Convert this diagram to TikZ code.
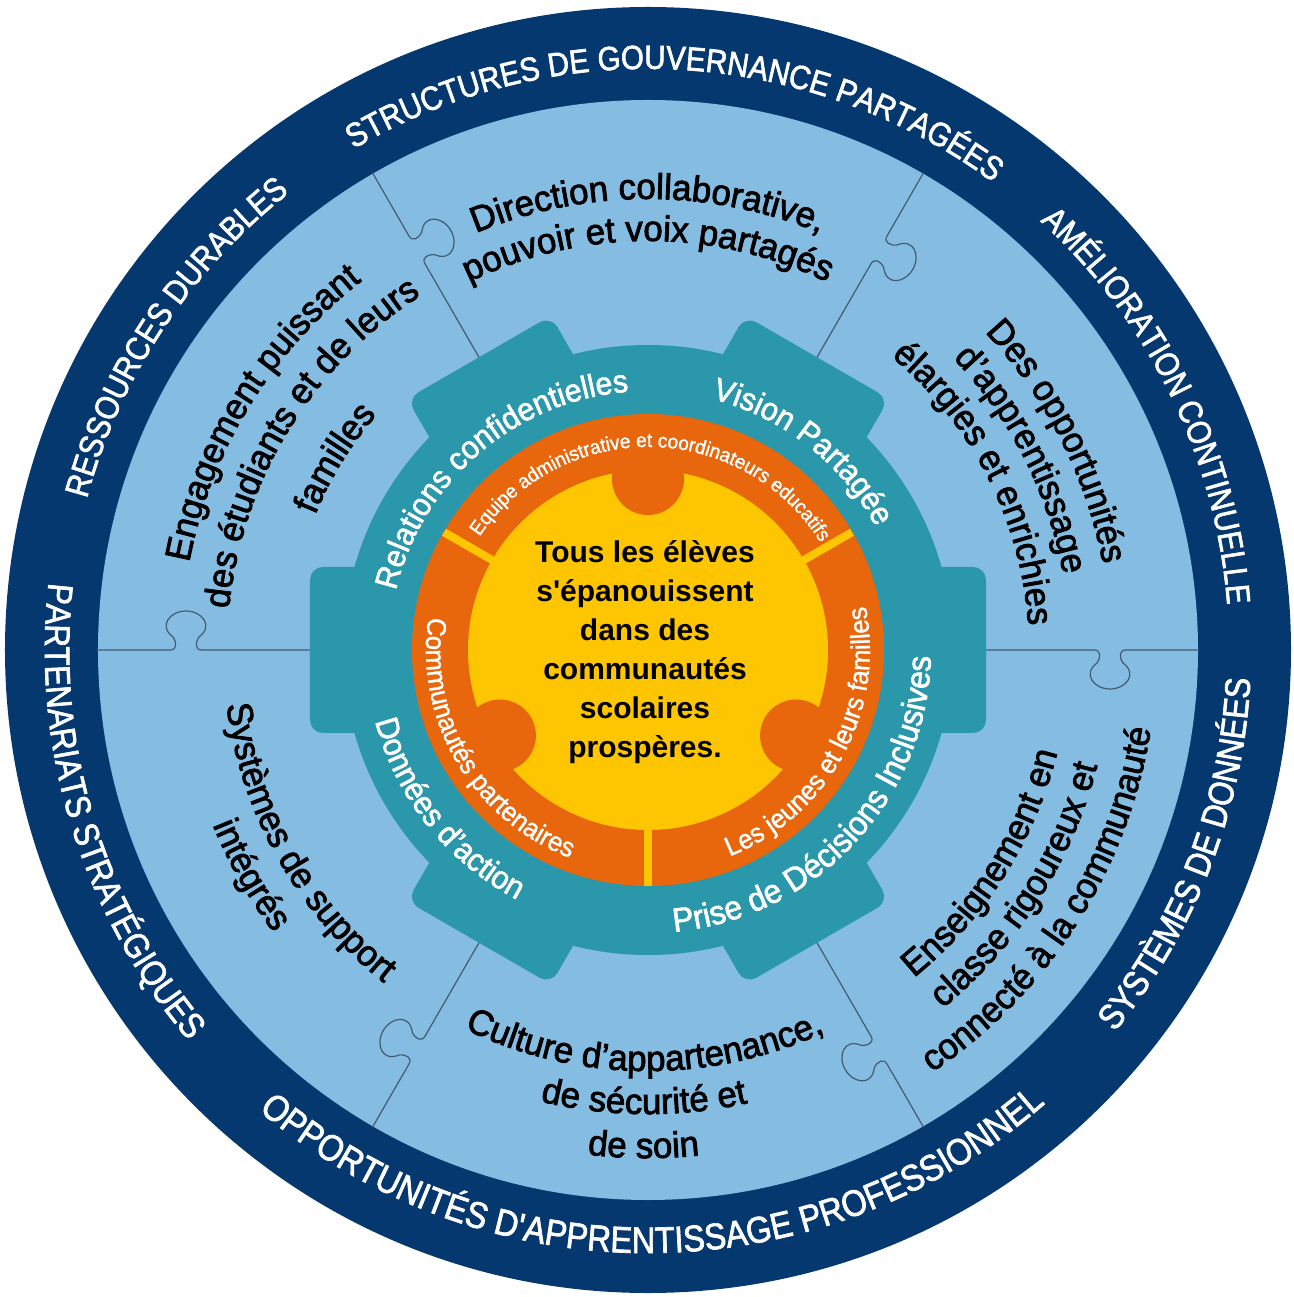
\documentclass[tikz,border=0pt]{standalone}
\usepackage{fontspec}
\setmainfont{Liberation Sans}
\newfontfamily\outerfam[FakeStretch=0.88,FakeBold=1.8]{Liberation Sans}
\newfontfamily\midfam[FakeStretch=0.97,FakeBold=2.2]{Liberation Sans}
\newfontfamily\gearfam[FakeStretch=0.95,FakeBold=1.8]{Liberation Sans}
\newfontfamily\smallfam[FakeStretch=0.95,FakeBold=1.2]{Liberation Sans}
\usetikzlibrary{decorations.text}
\definecolor{navyc}{RGB}{6,56,112}
\definecolor{lightc}{RGB}{133,188,225}
\definecolor{tealc}{RGB}{42,151,170}
\definecolor{orangec}{RGB}{232,102,12}
\definecolor{yellowc}{RGB}{254,198,0}
\definecolor{linec}{RGB}{66,90,115}
\newcommand\fOuter{\outerfam\fontsize{33.5}{33.5}\selectfont\color{white}}
\newcommand\fOuterB{\outerfam\fontsize{35.5}{35.5}\selectfont\color{white}}
\newcommand\fOuterC{\outerfam\fontsize{37}{37}\selectfont\color{white}}
\newcommand\fMid{\midfam\fontsize{36}{36}\selectfont\color{black}}
\newcommand\fGear{\gearfam\fontsize{32}{32}\selectfont\color{white}}
\newcommand\fGearB{\gearfam\fontsize{33.5}{33.5}\selectfont\color{white}}
\newcommand\fSmall{\smallfam\fontsize{20}{20}\selectfont\color{white}}
\newcommand\fRing{\smallfam\fontsize{27}{27}\selectfont\color{white}}
% clockwise arc text (tops outward)
\newcommand\cwtext[4]{\path[decorate,decoration={text along path,text align=center,text={|#1|#4}}] ({#2+80}:#3) arc[start angle={#2+80},end angle={#2-80},radius=#3];}
% counter-clockwise arc text (tops inward)
\newcommand\ccwtext[4]{\path[decorate,decoration={text along path,text align=center,text={|#1|#4}}] ({#2-80}:#3) arc[start angle={#2-80},end angle={#2+80},radius=#3];}
\begin{document}
\begin{tikzpicture}[x=1pt,y=1pt,
  puzzle/.style={draw=linec,line width=1.2pt},
  centertext/.style={font=\bfseries\fontsize{30}{39}\selectfont,align=center,text=black}]
\useasboundingbox (-648,-647) rectangle (645,650);
\fill[white] (-648,-647) rectangle (645,650);
% rings
\fill[navyc] (0,0) circle (643);
\fill[lightc] (0,0) circle (550);
% puzzle separators
\foreach \a in {0,60,...,300}{
  \draw[puzzle,rotate=\a] (336,0) -- (446,0) .. controls (453,0) and (453,-7) .. (449,-13)
    .. controls (434,-24) and (446,-39) .. (462,-39)
    .. controls (478,-39) and (490,-24) .. (475,-13)
    .. controls (471,-7) and (471,0) .. (478,0) -- (551,0);
}
% gear
\fill[tealc] (0,0) circle (305);
\foreach \a in {0,60,...,300}{
  \fill[tealc,rotate=\a,rounded corners=13pt] (250,-83) rectangle (338,83);
}
% orange ring and yellow centre
\fill[orangec] (0,0) circle (236);
\fill[yellowc] (0,0) circle (180);
\foreach \a in {90,210,330}{\fill[orangec] (\a:171) circle (36);}
\foreach \a in {30,150,270}{\draw[yellowc,line width=8pt] (\a:175) -- (\a:235.5);}
% centre text
\node[centertext] (ctext) at (-3,-2) {Tous les élèves\\s\textquotesingle épanouissent\\dans des\\communautés\\scolaires\\prospères.};
% outer ring texts
\cwtext{\fOuter}{87}{581}{STRUCTURES DE GOUVERNANCE PARTAGÉES}
\cwtext{\fOuter}{26}{581}{AMÉLIORATION CONTINUELLE}
\cwtext{\fOuter}{146.5}{581}{RESSOURCES DURABLES}
\ccwtext{\fOuterB}{197}{603}{PARTENARIATS STRATÉGIQUES}
\ccwtext{\fOuterC}{270.5}{603}{OPPORTUNITÉS D{\textquotesingle}APPRENTISSAGE PROFESSIONNEL}
\ccwtext{\fOuterB}{339}{603}{SYSTÈMES DE DONNÉES}
% middle ring texts
\cwtext{\fMid}{90}{451}{Direction collaborative,}
\cwtext{\fMid}{90}{409}{pouvoir et voix partagés}
\cwtext{\fMid}{27}{463}{Des opportunités}
\cwtext{\fMid}{27}{422}{d’apprentissage}
\cwtext{\fMid}{27}{381}{élargies et enrichies}
\cwtext{\fMid}{148.5}{467}{Engagement puissant}
\cwtext{\fMid}{148.5}{421}{des étudiants et de leurs}
\cwtext{\fMid}{148.5}{359}{familles}
\ccwtext{\fMid}{327.5}{422}{Enseignement en}
\ccwtext{\fMid}{327.5}{464}{classe rigoureux et}
\ccwtext{\fMid}{327.5}{509}{connecté à la communauté}
\ccwtext{\fMid}{269.5}{421}{Culture d’appartenance,}
\ccwtext{\fMid}{269.5}{464}{de sécurité et}
\ccwtext{\fMid}{269.5}{508}{de soin}
\ccwtext{\fMid}{209.5}{425}{Systèmes de support}
\ccwtext{\fMid}{209.5}{469}{intégrés}
% gear texts
\cwtext{\fGear}{130.5}{259}{Relations confidentielles}
\cwtext{\fGear}{52}{259}{Vision Partagée}
\ccwtext{\fGearB}{317}{283}{Prise de Décisions Inclusives}
\ccwtext{\fGear}{218.5}{282}{Données d’action}
% orange ring texts
\cwtext{\fSmall}{89}{203}{Equipe administrative et coordinateurs educatifs}
\ccwtext{\fRing}{210.5}{222}{Communautés partenaires}
\ccwtext{\fRing}{331.5}{222}{Les jeunes et leurs familles}
\end{tikzpicture}
\end{document}
